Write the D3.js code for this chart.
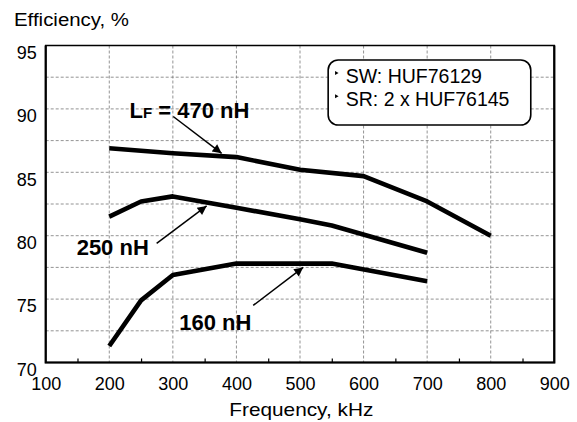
<!DOCTYPE html>
<html>
<head>
<meta charset="utf-8">
<script src="https://cdn.jsdelivr.net/npm/d3@7"></script>
<style>
  body { margin: 0; background: #fff; }
  text { font-family: "Liberation Sans", Arial, sans-serif; fill: #000; }
</style>
</head>
<body>
<div id="chart"></div>
<script>
// frequency points (kHz) and efficiency (%) for each filter inductance
var freq470 = [200, 300, 400, 500, 600, 700, 800];
var eff470  = [86.9, 86.5, 86.2, 85.2, 84.7, 82.7, 80.0];
var freq250 = [200, 250, 300, 400, 500, 550, 700];
var eff250  = [81.5, 82.7, 83.1, 82.2, 81.3, 80.8, 78.65];
var freq160 = [200, 250, 300, 400, 550, 700];
var eff160  = [71.3, 74.9, 76.9, 77.8, 77.8, 76.4];

var xTicks = [100, 200, 300, 400, 500, 600, 700, 800, 900];
var yTicks = [70, 75, 80, 85, 90, 95];
var xMinor = [150, 250, 350, 450, 550, 650, 750, 850];
var yGrid  = [72.5, 75, 77.5, 80, 82.5, 85, 87.5, 90, 92.5];
var xGrid  = [200, 300, 400, 500, 600, 700, 800];

var legendLines = ["SW: HUF76129", "SR: 2 x HUF76145"];

var width = 577, height = 422;
var margin = {top: 45.5, right: 22.7, bottom: 59.5, left: 45.7};
var w = width - margin.left - margin.right;
var h = height - margin.top - margin.bottom;

var svg = d3.select("#chart").append("svg")
    .attr("width", width)
    .attr("height", height);

var g = svg.append("g")
    .attr("transform", "translate(" + margin.left + "," + margin.top + ")");

var x = d3.scaleLinear().domain([100, 900]).range([0, w]);
var y = d3.scaleLinear().domain([70, 95]).range([h, 0]);

// dashed grid
g.selectAll(".hgrid").data(yGrid).enter().append("line")
    .attr("x1", 0).attr("x2", w)
    .attr("y1", d => y(d)).attr("y2", d => y(d))
    .attr("stroke", "#777").attr("stroke-width", 0.8)
    .attr("stroke-dasharray", "3,2");
g.selectAll(".vgrid").data(xGrid).enter().append("line")
    .attr("y1", 0).attr("y2", h)
    .attr("x1", d => x(d)).attr("x2", d => x(d))
    .attr("stroke", "#777").attr("stroke-width", 0.8)
    .attr("stroke-dasharray", "3,2");

// minor ticks on the bottom edge, pointing in
var minorAxis = g.append("g")
    .attr("transform", "translate(0," + h + ")")
    .call(d3.axisBottom(x).tickValues(xMinor).tickSize(-4).tickFormat(""));
minorAxis.select(".domain").remove();
minorAxis.selectAll("line").attr("stroke", "#000").attr("stroke-width", 1.2);

// tick labels
var xAxis = g.append("g")
    .attr("transform", "translate(0," + h + ")")
    .call(d3.axisBottom(x).tickValues(xTicks).tickSize(0));
xAxis.select(".domain").remove();
xAxis.selectAll("text")
    .attr("y", 27).attr("dy", null)
    .style("font-size", "18px");

var yAxis = g.append("g")
    .call(d3.axisLeft(y).tickValues(yTicks).tickSize(0));
yAxis.select(".domain").remove();
yAxis.selectAll("text")
    .attr("x", -9).attr("y", 12.7).attr("dy", null)
    .style("font-size", "18px");

// frame
g.append("rect")
    .attr("width", w).attr("height", h)
    .attr("fill", "none").attr("stroke", "#000").attr("stroke-width", 1.5);
g.append("path")
    .attr("d", "M0,0V" + h + "H" + w + "V0")
    .attr("fill", "none").attr("stroke", "#000").attr("stroke-width", 2.2);

// curves
var line = d3.line()
    .x(d => x(d[0]))
    .y(d => y(d[1]));

var series = [d3.zip(freq470, eff470), d3.zip(freq250, eff250), d3.zip(freq160, eff160)];
g.selectAll(".curve").data(series).enter().append("path")
    .attr("d", line)
    .attr("fill", "none")
    .attr("stroke", "#000")
    .attr("stroke-width", 4.6)
    .attr("stroke-linejoin", "round");

// arrows pointing from labels to curves
svg.append("defs").append("marker")
    .attr("id", "head")
    .attr("viewBox", "0 0 10 10")
    .attr("refX", 10).attr("refY", 5)
    .attr("markerWidth", 12).attr("markerHeight", 9)
    .attr("markerUnits", "userSpaceOnUse")
    .attr("orient", "auto")
    .append("path")
    .attr("d", "M0,0L10,5L0,10Z")
    .attr("fill", "#000");

var arrows = [
    [[300.6, 89.4], [376.7, 86.5]],
    [[274.5, 79.4], [353.1, 82.35]],
    [[426.4, 74.5], [505, 77.5]]
];
g.selectAll(".arrow").data(arrows).enter().append("line")
    .attr("x1", d => x(d[0][0])).attr("y1", d => y(d[0][1]))
    .attr("x2", d => x(d[1][0])).attr("y2", d => y(d[1][1]))
    .attr("stroke", "#000").attr("stroke-width", 1.5)
    .attr("marker-end", "url(#head)");

// curve labels
var lf = g.append("text")
    .attr("x", x(231.9)).attr("y", y(89.26))
    .style("font-size", "22px").style("font-weight", "bold");
lf.append("tspan").text("L");
lf.append("tspan").style("font-size", "15px").text("F");
lf.append("tspan").text(" = 470 nH");

g.append("text")
    .attr("x", x(148.7)).attr("y", y(78.48))
    .style("font-size", "22px").style("font-weight", "bold")
    .text("250 nH");
g.append("text")
    .attr("x", x(310)).attr("y", y(72.56))
    .style("font-size", "22px").style("font-weight", "bold")
    .text("160 nH");

// legend box
g.append("rect")
    .attr("x", x(544.3)).attr("y", y(93.86))
    .attr("width", x(863) - x(544.3)).attr("height", y(88.73) - y(93.86))
    .attr("rx", 10).attr("ry", 10)
    .attr("fill", "#fff").attr("stroke", "#000").attr("stroke-width", 1.6);

var legY = [92.04, 90.2];
legendLines.forEach(function(t, i) {
    g.append("path")
        .attr("d", d3.symbol(d3.symbolTriangle, 7)())
        .attr("transform", "translate(" + (x(557) ) + "," + (y(legY[i]) - 10) + ") rotate(90)")
        .attr("fill", "#000");
    g.append("text")
        .attr("x", x(572)).attr("y", y(legY[i]))
        .style("font-size", "19.5px")
        .text(t);
});

// axis titles
svg.append("text")
    .attr("x", 14).attr("y", 26)
    .attr("textLength", 115).attr("lengthAdjust", "spacingAndGlyphs")
    .style("font-size", "17.5px")
    .text("Efficiency, %");
svg.append("text")
    .attr("x", 229.3).attr("y", 416)
    .attr("textLength", 144).attr("lengthAdjust", "spacingAndGlyphs")
    .style("font-size", "18.5px")
    .text("Frequency, kHz");
</script>
</body>
</html>
